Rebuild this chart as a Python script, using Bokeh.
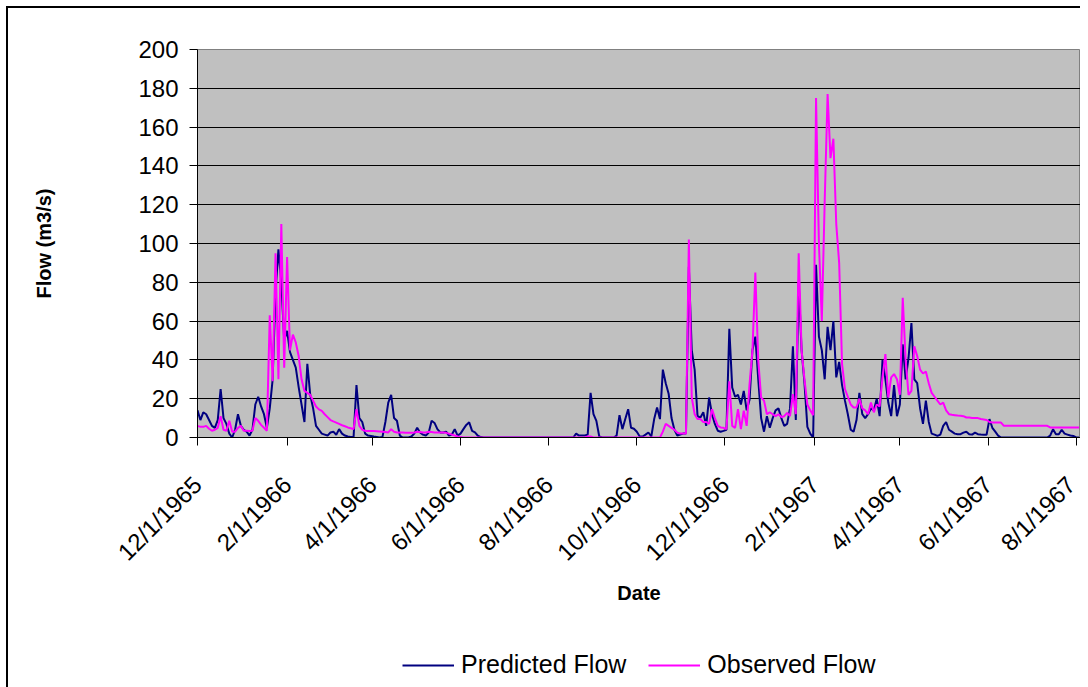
import math
import pandas as pd
from bokeh.plotting import figure
from bokeh.layouts import column
from bokeh.models import FixedTicker, Legend, LegendItem, Range1d, ColumnDataSource
from bokeh.embed import file_html
from bokeh.resources import INLINE

# ---------------- data ----------------
start_date = "1965-12-01"
end_date = "1967-08-04"
step = "2D"

predicted_flow = [
    14, 9, 13, 12, 9, 6, 5, 9, 25, 10,
    7, 2, 0, 4, 12, 6, 4, 3, 1, 4,
    17, 21, 16, 12, 5, 15, 30, 75, 97, 80,
    50, 55, 44, 40, 36, 26, 17, 8, 38, 22,
    15, 6, 4, 2, 1.5, 1, 2.6, 3, 1.4, 4.3,
    2, 1, 0.5, 0.3, 0.3, 27, 10, 8, 2, 1,
    0.8, 0.5, 0.3, 0, 0.3, 8, 18, 22, 10, 8.6,
    1, 0, 0, 0, 0.5, 2, 5, 2.6, 1.5, 1,
    2.6, 8.6, 7.5, 4.3, 2.6, 2.6, 3, 1, 1.5, 4.3,
    1, 2, 4.3, 6.5, 7.8, 3.4, 2.6, 0.9, 0.2, 0,
    0, 0, 0, 0, 0, 0, 0, 0, 0, 0,
    0, 0, 0, 0, 0, 0, 0, 0, 0, 0,
    0, 0, 0, 0, 0, 0, 0, 0, 0, 0,
    0, 2, 1, 1, 1, 1.5, 23, 12, 8.6, 0.5,
    0, 0, 0, 0, 0, 1, 11.5, 4.3, 9.5, 14.6,
    5, 4.5, 3, 0.5, 0.5, 1.5, 2.6, 0.5, 9.5, 15.5,
    9.5, 35, 28, 22.6, 10, 4, 1, 1.5, 2, 2,
    88, 45, 35, 11, 10.3, 13, 6, 20.6, 12, 7,
    3.5, 3, 3.4, 4, 56, 25.8, 21, 22, 17, 24,
    14, 19.5, 45, 52, 30, 10, 3, 11, 5, 10,
    14, 15, 10, 6, 7, 15, 47, 9, 80, 45,
    28, 5.5, 2, 0, 89, 52, 45, 30, 57, 45,
    60, 31, 39, 27, 19, 12, 4, 3, 9, 23,
    12, 10, 12, 15, 14, 20, 11, 40, 30, 18,
    11, 27, 11, 17, 48, 30, 41, 59, 30, 28,
    15, 7, 19, 8, 2, 1.5, 0.8, 1.5, 6, 8,
    4, 3, 2, 1.7, 1.7, 2.5, 3, 1.7, 1.5, 2.5,
    1.7, 1.5, 1.4, 1.4, 9.5, 5, 3, 1, 0, 0,
    0, 0, 0, 0, 0, 0, 0, 0, 0, 0,
    0, 0, 0, 0, 0, 1, 4.3, 1.7, 1.7, 4,
    2, 1.5, 1, 0.8, 0, 0,
]

observed_flow = [
    6, 5.5, 5.5, 6, 4.5, 3.5, 4, 5, 11, 4,
    3.5, 8.6, 3, 3, 5, 6, 3.5, 3.5, 3.4, 3.5,
    10, 8.6, 6.5, 5, 3.5, 63, 29, 95, 30, 110,
    36, 93, 45, 53, 49, 42, 30, 24, 23, 22,
    19, 16, 14.5, 13.7, 12, 10.5, 9, 8.3, 7.7, 7,
    6.3, 5.8, 5.2, 4.8, 4.3, 14.6, 6, 4, 3.4, 3.4,
    3.4, 3.3, 3.2, 3.1, 3, 2.8, 2.6, 4.3, 3, 2.6,
    2.6, 2.6, 2.5, 2.5, 2.5, 2.6, 3, 2.8, 2.6, 2.6,
    3, 2.8, 2.6, 2.6, 2.6, 2.6, 2.4, 2, 1.5, 1,
    0.5, 0.3, 0, 0, 0, 0, 0, 0, 0, 0,
    0, 0, 0, 0, 0, 0, 0, 0, 0, 0,
    0, 0, 0, 0, 0, 0, 0, 0, 0, 0,
    0, 0, 0, 0, 0, 0, 0, 0, 0, 0,
    0, 0, 0, 0, 0, 0.5, 0.5, 0, 0, 0,
    0, 0, 0, 0, 0, 0, 0, 0, 0, 0,
    0, 0, 0, 0, 0, 0, 0, 0, 0, 0,
    0, 3, 7, 6, 5, 4, 2.5, 2, 2, 2,
    102, 20.6, 12, 9.5, 9.5, 8, 8, 7, 14.6, 10,
    6, 5.2, 5, 4.3, 29, 6, 5, 14.6, 4.3, 13.8,
    6, 27.5, 45, 85, 40, 20.6, 19, 12, 13, 12,
    11, 12, 10.6, 11, 12.7, 11, 22.3, 12, 95, 45,
    30, 17, 14, 11.5, 175, 100, 60, 122, 177, 144,
    154, 110, 90, 38, 25, 21, 17, 15.5, 15.5, 20,
    15, 14, 12, 18, 13, 17, 16, 31, 43, 20.6,
    31, 32.7, 30, 22, 72, 40, 22, 24, 47, 42,
    35, 33, 34, 28, 23, 21, 19, 17, 18, 14,
    12, 11.7, 11.5, 11.3, 11.2, 11, 10.3, 10.3, 10, 10,
    10, 9.5, 9.3, 9, 8, 7.7, 7.7, 7.7, 7.7, 6,
    6, 6, 6, 6, 6, 6, 6, 6, 6, 6,
    6, 6, 6, 6, 6, 5.2, 5.2, 5.2, 5.2, 5.2,
    5.2, 5.2, 5.2, 5.2, 5.2, 5.2,
]

tick_dates = ["1965-12-01", "1966-02-01", "1966-04-01", "1966-06-01",
              "1966-08-01", "1966-10-01", "1966-12-01", "1967-02-01",
              "1967-04-01", "1967-06-01", "1967-08-01"]
tick_labels = ["12/1/1965", "2/1/1966", "4/1/1966", "6/1/1966",
               "8/1/1966", "10/1/1966", "12/1/1966", "2/1/1967",
               "4/1/1967", "6/1/1967", "8/1/1967"]
y_ticks = [0, 20, 40, 60, 80, 100, 120, 140, 160, 180, 200]

series_names = ["Predicted Flow", "Observed Flow"]
series_colors = ["#000080", "#FF00FF"]

# ---------------- build ----------------
dates = pd.date_range(start_date, periods=len(predicted_flow), freq=step)
source = ColumnDataSource(dict(date=dates, predicted=predicted_flow, observed=observed_flow))


def to_ms(d):
    return int(pd.Timestamp(d).value // 10**6)


tick_ms = [to_ms(d) for d in tick_dates]
x0, x1 = to_ms(start_date), to_ms(end_date)
FONT = "Liberation Sans"

p = figure(frame_width=883, frame_height=388, x_axis_type="datetime",
           output_backend="svg", toolbar_location=None,
           x_range=Range1d(x0, x1), y_range=Range1d(0, 200),
           min_border_left=197, min_border_right=0,
           min_border_top=49, min_border_bottom=190)

# white page with the chart's outer border on its left and top edges
p.border_fill_color = None
p.styles = {"background": "linear-gradient(#000,#000) 6px 6px / 2px 100% no-repeat, "
                          "linear-gradient(#000,#000) 6px 6px / 100% 2px no-repeat, #ffffff"}

p.background_fill_color = "#C0C0C0"
p.outline_line_color = "#808080"
p.outline_line_width = 1

p.xgrid.visible = False
p.ygrid.grid_line_color = "black"
p.ygrid.grid_line_width = 1
p.ygrid.ticker = FixedTicker(ticks=y_ticks)

r1 = p.line("date", "predicted", source=source, color=series_colors[0], line_width=2)
r2 = p.line("date", "observed", source=source, color=series_colors[1], line_width=2)

xa = p.xaxis[0]
xa.ticker = FixedTicker(ticks=tick_ms)
xa.major_label_overrides = {ms: lab for ms, lab in zip(tick_ms, tick_labels)}
xa.major_label_orientation = math.pi / 4
xa.axis_label = "Date"
xa.major_label_standoff = 35
xa.axis_label_standoff = 4

ya = p.yaxis[0]
ya.ticker = FixedTicker(ticks=y_ticks)
ya.axis_label = "Flow (m3/s)"
ya.major_label_standoff = 11
ya.axis_label_standoff = 80

for ax in (xa, ya):
    ax.axis_line_color = "black"
    ax.axis_line_width = 1
    ax.major_tick_line_color = "black"
    ax.major_tick_out = 8
    ax.major_tick_in = 0
    ax.minor_tick_line_color = None
    ax.major_label_text_font = FONT
    ax.major_label_text_font_size = "24px"
    ax.major_label_text_color = "black"
    ax.axis_label_text_font = FONT
    ax.axis_label_text_font_size = "20px"
    ax.axis_label_text_font_style = "bold"
    ax.axis_label_text_color = "black"

# legend strip under the chart (same series, drawn outside this strip's range,
# so that only their legend keys show)
pl = figure(width=1080, height=60, output_backend="svg", toolbar_location=None,
            x_axis_location=None, y_axis_location=None, x_axis_type="datetime",
            x_range=Range1d(x1 + 10**9, x1 + 2 * 10**9), y_range=Range1d(0, 200),
            min_border=0)
pl.border_fill_color = None
pl.background_fill_color = None
pl.outline_line_color = None
pl.grid.visible = False
pl.styles = {"background": "linear-gradient(#000,#000) 6px 0 / 2px 100% no-repeat, #ffffff"}

k1 = pl.line("date", "predicted", source=source, color=series_colors[0], line_width=2)
k2 = pl.line("date", "observed", source=source, color=series_colors[1], line_width=2)
legend = Legend(items=[LegendItem(label=series_names[0], renderers=[k1]),
                       LegendItem(label=series_names[1], renderers=[k2])],
                orientation="horizontal", location=(205, 8),
                border_line_color=None, background_fill_alpha=0,
                label_text_font=FONT, label_text_font_size="25px",
                label_text_color="black",
                glyph_width=52, glyph_height=20, label_standoff=7,
                spacing=22, padding=2, margin=0)
pl.add_layout(legend, "center")

layout = column(p, pl, spacing=0)
open("out.html", "w").write(file_html(layout, INLINE))
